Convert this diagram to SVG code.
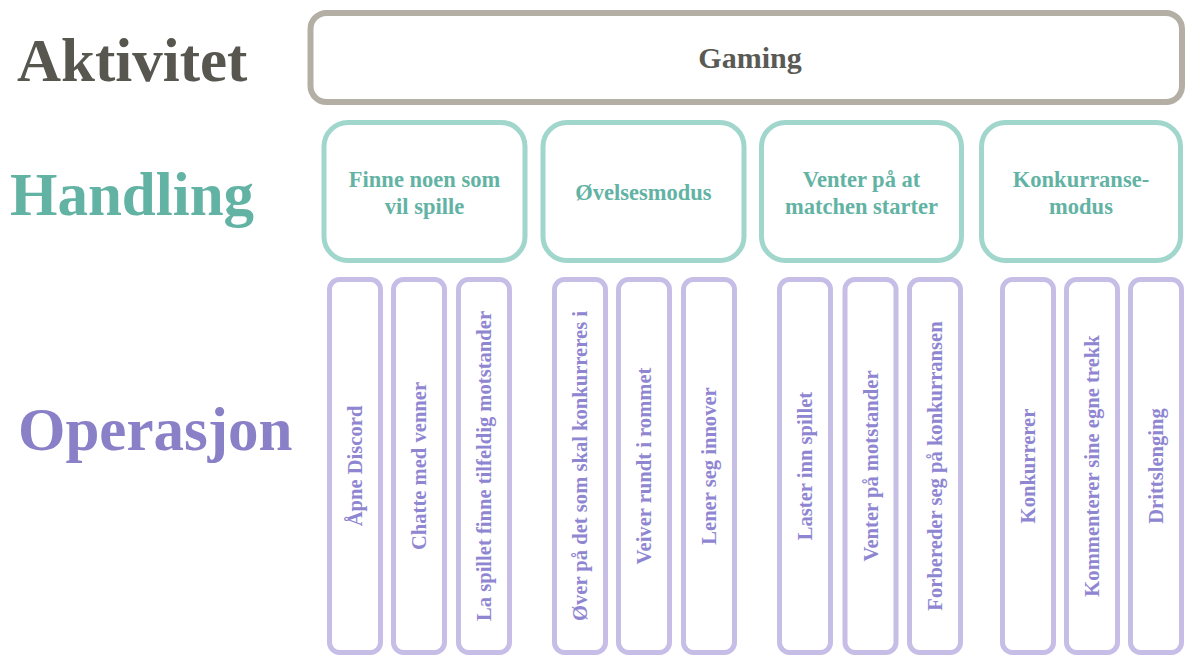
<svg xmlns="http://www.w3.org/2000/svg" width="1186" height="655" viewBox="0 0 1186 655">
  <style>
    text { font-family: "Liberation Serif", "Times New Roman", serif; font-weight: bold; }
    .lvl { font-size: 61px; }
    .act-box { fill: #ffffff; stroke: #b4afa4; stroke-width: 6; }
    .act-txt { fill: #5a5a55; font-size: 30px; text-anchor: middle; }
    .hand-box { fill: #ffffff; stroke: #a0d6cc; stroke-width: 5; }
    .hand-txt { fill: #62b3a4; font-size: 22.5px; text-anchor: middle; }
    .op-box { fill: #ffffff; stroke: #c6bee6; stroke-width: 5; }
    .op-txt { fill: #8f86d2; font-size: 20.6px; text-anchor: middle; dominant-baseline: central; }
  </style>

  <!-- level headings -->
  <g id="levels">
    <text class="lvl" x="17" y="81" fill="#57574f">Aktivitet</text>
    <text class="lvl" x="10" y="215" fill="#62b3a4">Handling</text>
    <text class="lvl" x="18" y="450" fill="#8a80c8">Operasjon</text>
  </g>

  <!-- activity -->
  <g id="gaming">
    <rect class="act-box" x="310.5" y="13" width="871.5" height="89" rx="16"/>
    <text class="act-txt" x="750" y="68">Gaming</text>
  </g>

  <!-- actions -->
  <g id="finne-noen">
    <rect class="hand-box" x="324" y="122.5" width="201" height="138" rx="24"/>
    <text class="hand-txt" x="424.5" y="187">Finne noen som</text>
    <text class="hand-txt" x="424.5" y="214">vil spille</text>
  </g>
  <g id="ovelsesmodus">
    <rect class="hand-box" x="543" y="122.5" width="201" height="138" rx="24"/>
    <text class="hand-txt" x="643.5" y="200">Øvelsesmodus</text>
  </g>
  <g id="venter-match">
    <rect class="hand-box" x="761.5" y="122.5" width="200" height="138" rx="24"/>
    <text class="hand-txt" x="861.5" y="187">Venter på at</text>
    <text class="hand-txt" x="861.5" y="214">matchen starter</text>
  </g>
  <g id="konkurransemodus">
    <rect class="hand-box" x="981.5" y="122.5" width="199" height="138" rx="24"/>
    <text class="hand-txt" x="1081" y="187">Konkurranse-</text>
    <text class="hand-txt" x="1081" y="214">modus</text>
  </g>

  <!-- operations -->
  <g id="op-apne-discord">
    <rect class="op-box" x="329.5" y="279.5" width="51" height="373" rx="10"/>
    <text class="op-txt" transform="translate(355 466) rotate(-90)">Åpne Discord</text>
  </g>
  <g id="op-chatte">
    <rect class="op-box" x="393.5" y="279.5" width="51" height="373" rx="10"/>
    <text class="op-txt" transform="translate(419 466) rotate(-90)">Chatte med venner</text>
  </g>
  <g id="op-tilfeldig">
    <rect class="op-box" x="458.5" y="279.5" width="51" height="373" rx="10"/>
    <text class="op-txt" transform="translate(484 466) rotate(-90)">La spillet finne tilfeldig motstander</text>
  </g>
  <g id="op-over">
    <rect class="op-box" x="554.5" y="279.5" width="51" height="373" rx="10"/>
    <text class="op-txt" transform="translate(580 466) rotate(-90)">Øver på det som skal konkurreres i</text>
  </g>
  <g id="op-veiver">
    <rect class="op-box" x="618.5" y="279.5" width="51" height="373" rx="10"/>
    <text class="op-txt" transform="translate(644 466) rotate(-90)">Veiver rundt i rommet</text>
  </g>
  <g id="op-lener">
    <rect class="op-box" x="683.5" y="279.5" width="51" height="373" rx="10"/>
    <text class="op-txt" transform="translate(709 466) rotate(-90)">Lener seg innover</text>
  </g>
  <g id="op-laster">
    <rect class="op-box" x="779.5" y="279.5" width="51" height="373" rx="10"/>
    <text class="op-txt" transform="translate(805 466) rotate(-90)">Laster inn spillet</text>
  </g>
  <g id="op-venter-motstander">
    <rect class="op-box" x="845" y="279.5" width="51" height="373" rx="10"/>
    <text class="op-txt" transform="translate(870.5 466) rotate(-90)">Venter på motstander</text>
  </g>
  <g id="op-forbereder">
    <rect class="op-box" x="909.5" y="279.5" width="51" height="373" rx="10"/>
    <text class="op-txt" transform="translate(935 466) rotate(-90)">Forbereder seg på konkurransen</text>
  </g>
  <g id="op-konkurrerer">
    <rect class="op-box" x="1002.5" y="279.5" width="51" height="373" rx="10"/>
    <text class="op-txt" transform="translate(1028 466) rotate(-90)">Konkurrerer</text>
  </g>
  <g id="op-kommenterer">
    <rect class="op-box" x="1066.5" y="279.5" width="51" height="373" rx="10"/>
    <text class="op-txt" transform="translate(1092 466) rotate(-90)">Kommenterer sine egne trekk</text>
  </g>
  <g id="op-drittslenging">
    <rect class="op-box" x="1130.5" y="279.5" width="51" height="373" rx="10"/>
    <text class="op-txt" transform="translate(1156 466) rotate(-90)">Drittslenging</text>
  </g>

  <!-- the hierarchy is shown by position only; no drawn connectors -->
  <g id="connectors"/>
</svg>
